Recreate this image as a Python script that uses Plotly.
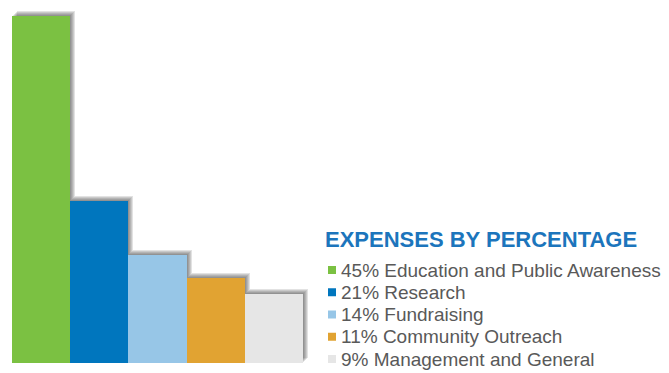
import plotly.graph_objects as go

categories = ["Education and Public Awareness", "Research", "Fundraising",
              "Community Outreach", "Management and General"]
values = [45, 21, 14, 11, 9]
labels = ["45% Education and Public Awareness", "21% Research", "14% Fundraising",
          "11% Community Outreach", "9% Management and General"]
colors = ["#7BC142", "#0076BE", "#97C6E7", "#E1A332", "#E6E6E6"]
legend_title = "EXPENSES BY PERCENTAGE"

W, H = 669, 373
x0, x1 = 12 / W, 303 / W
y0, y1 = 10 / H, 357 / H

fig = go.Figure()

# soft shadow layers (offset up-right), drawn on lower subplots
shadow_offsets = [(5, 5), (4, 4), (3, 3), (2, 2), (1, 1)]
for i, (dx, dy) in enumerate(shadow_offsets):
    ax = "" if i == 0 else str(i + 1)
    fig.add_trace(go.Bar(x=categories, y=values,
                         marker=dict(color="rgba(60,60,60,0.15)", line=dict(width=0)),
                         xaxis="x" + ax, yaxis="y" + ax, showlegend=False, hoverinfo="skip"))
    fig.update_layout(**{
        "xaxis" + ax: dict(domain=[x0 + dx / W, x1 + dx / W], range=[-0.5, 4.5], visible=False,
                           anchor="y" + ax),
        "yaxis" + ax: dict(domain=[y0 + dy / H, y1 + dy / H], range=[0, 45], visible=False,
                           anchor="x" + ax),
    })

main = str(len(shadow_offsets) + 1)
fig.add_trace(go.Bar(x=categories, y=values, marker=dict(color=colors, line=dict(width=0)),
                     showlegend=False, xaxis="x" + main, yaxis="y" + main))
fig.update_layout(**{
    "xaxis" + main: dict(domain=[x0, x1], range=[-0.5, 4.5], visible=False, anchor="y" + main),
    "yaxis" + main: dict(domain=[y0, y1], range=[0, 45], visible=False, anchor="x" + main),
})

# legend (title + swatches + labels)
annotations = [dict(text="<b>%s</b>" % legend_title, x=323 / W, y=1 - 239.5 / H,
                    xref="paper", yref="paper", xanchor="left", yanchor="middle",
                    showarrow=False, font=dict(size=22, color="#1C75BC"))]
shapes = []
row0, step = 270, 22.25
for i, (lab, col) in enumerate(zip(labels, colors)):
    yc = row0 + i * step
    annotations.append(dict(text=lab, x=339 / W, y=1 - yc / H, xref="paper", yref="paper",
                            xanchor="left", yanchor="middle", showarrow=False,
                            font=dict(size=19, color="#595959")))
    shapes.append(dict(type="rect", xref="paper", yref="paper",
                       x0=328 / W, x1=336 / W, y0=1 - (yc + 4) / H, y1=1 - (yc - 4) / H,
                       fillcolor=col, line=dict(width=0)))

fig.update_layout(
    width=W, height=H,
    margin=dict(l=0, r=0, t=0, b=0),
    paper_bgcolor="white", plot_bgcolor="rgba(0,0,0,0)",
    bargap=0,
    showlegend=False,
    font=dict(family="Liberation Sans, Arial, sans-serif"),
    annotations=annotations,
    shapes=shapes,
)

fig.write_html("out.html")
